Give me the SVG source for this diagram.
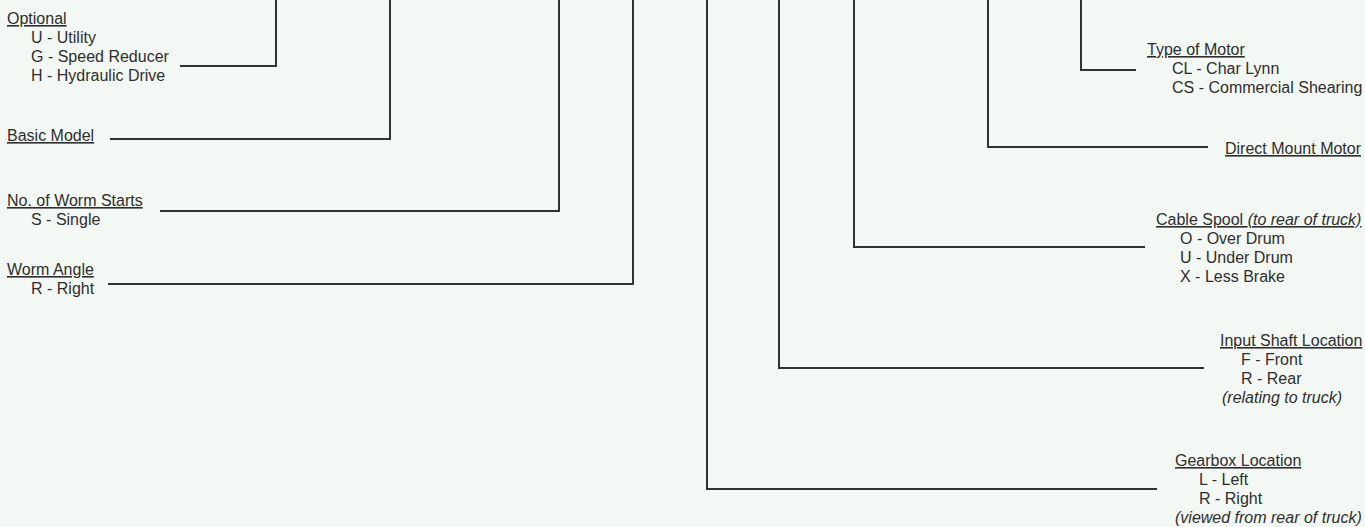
<svg xmlns="http://www.w3.org/2000/svg" width="1365" height="527" viewBox="0 0 1365 527">
<style>
text{font-family:"Liberation Sans",Arial,Helvetica,sans-serif;font-size:16px;fill:#2e2e2e}
.h{text-decoration:underline}
.i{font-style:italic}
.c{fill:none;stroke:#333;stroke-width:2;stroke-linejoin:miter}
</style>
<rect width="1365" height="527" fill="#f4f8f4"/>
<g id="connectors">
<path class="c" d="M276,0 V66 H180"/>
<path class="c" d="M390,0 V139 H110"/>
<path class="c" d="M559,0 V211 H160"/>
<path class="c" d="M633,0 V284 H108"/>
<path class="c" d="M707,0 V489 H1157"/>
<path class="c" d="M779,0 V368 H1204"/>
<path class="c" d="M854,0 V247 H1145"/>
<path class="c" d="M988,0 V147 H1208"/>
<path class="c" d="M1081,0 V70 H1136"/>
</g>
<g id="optional">
<text x="7" y="24" class="h">Optional</text>
<text x="31" y="43">U - Utility</text>
<text x="31" y="62">G - Speed Reducer</text>
<text x="31" y="81">H - Hydraulic Drive</text>
</g>
<g id="basic-model">
<text x="7" y="141" class="h">Basic Model</text>
</g>
<g id="worm-starts">
<text x="7" y="206" class="h">No. of Worm Starts</text>
<text x="31" y="225">S - Single</text>
</g>
<g id="worm-angle">
<text x="7" y="275" class="h">Worm Angle</text>
<text x="31" y="294">R - Right</text>
</g>
<g id="type-of-motor">
<text x="1147" y="55" class="h">Type of Motor</text>
<text x="1172" y="74">CL - Char Lynn</text>
<text x="1172" y="93">CS - Commercial Shearing</text>
</g>
<g id="direct-mount-motor">
<text x="1225" y="154" class="h">Direct Mount Motor</text>
</g>
<g id="cable-spool">
<text x="1156" y="225" class="h">Cable Spool <tspan class="i">(to rear of truck)</tspan></text>
<text x="1180" y="244">O - Over Drum</text>
<text x="1180" y="263">U - Under Drum</text>
<text x="1180" y="282">X - Less Brake</text>
</g>
<g id="input-shaft-location">
<text x="1220" y="346" class="h">Input Shaft Location</text>
<text x="1241" y="365">F - Front</text>
<text x="1241" y="384">R - Rear</text>
<text x="1222" y="403" class="i">(relating to truck)</text>
</g>
<g id="gearbox-location">
<text x="1175" y="466" class="h">Gearbox Location</text>
<text x="1199" y="485">L - Left</text>
<text x="1199" y="504">R - Right</text>
<text x="1175" y="523" class="i">(viewed from rear of truck)</text>
</g>
</svg>
